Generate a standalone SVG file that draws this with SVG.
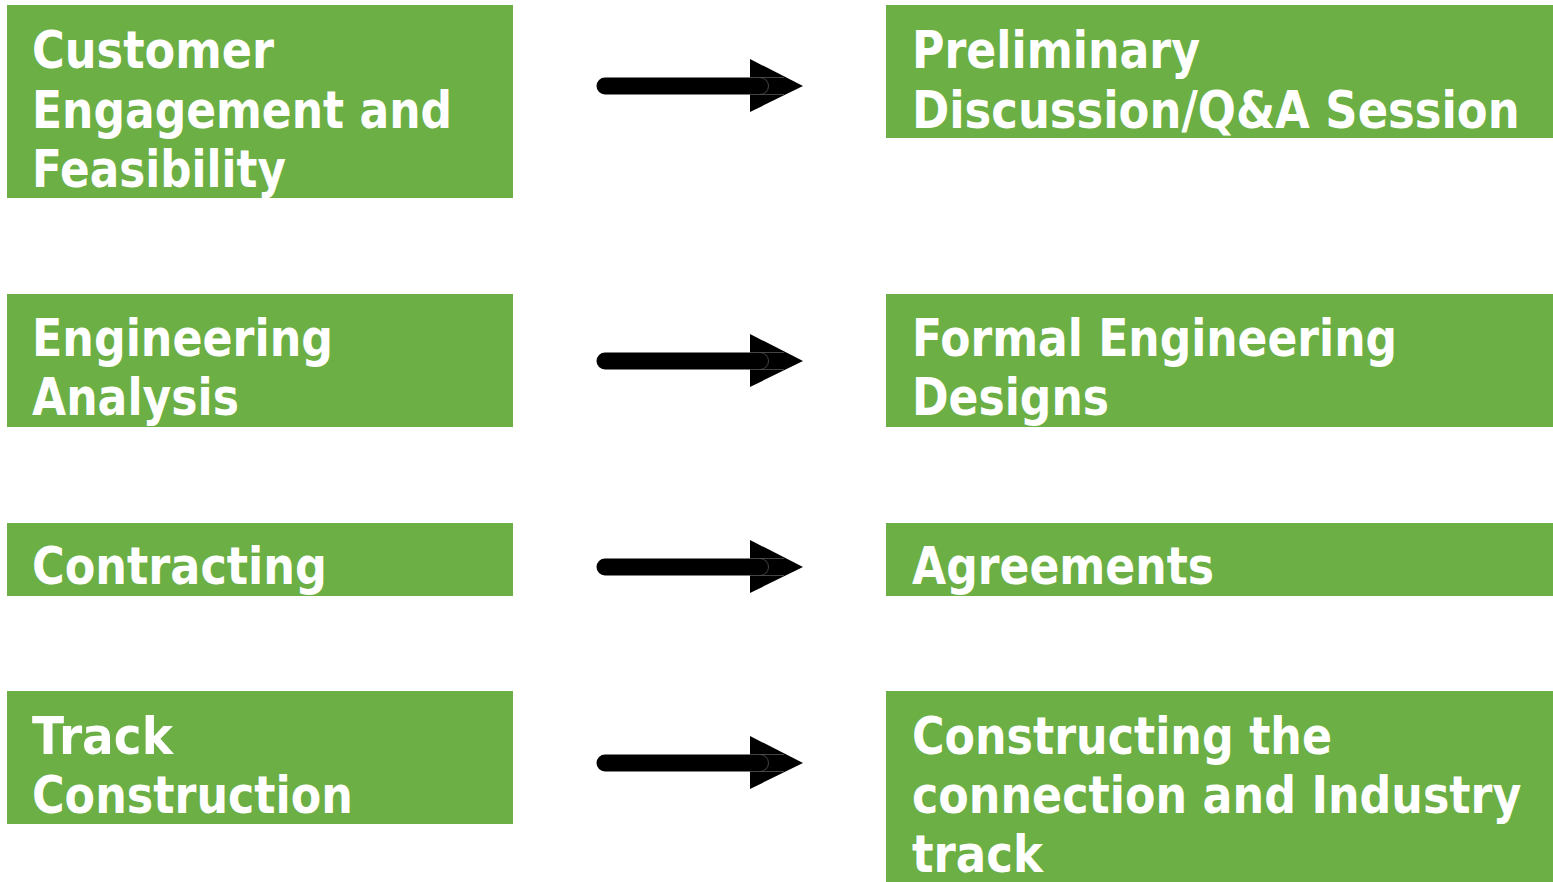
<svg xmlns="http://www.w3.org/2000/svg" width="1553" height="882" viewBox="0 0 1553 882">
<style>
.box{fill:#6BAF45}
.t{font-family:"DejaVu Sans","Verdana",sans-serif;font-weight:bold;font-size:51px;fill:#ffffff}
.shaft{stroke:#000;stroke-width:17;stroke-linecap:round;fill:none}
.head{fill:#000}
.ghost{stroke:#555;stroke-width:0.8;fill:none}
</style>
<defs>
<g id="arrow">
<line class="shaft" x1="605" y1="0" x2="760" y2="0"/>
<polygon class="head" points="750,-27 803,0 750,26"/>
<path class="ghost" d="M750,-8.5 H760 A8.5,8.5 0 0 1 760,8.5 H750 M760,-8.5 H784 M760,8.5 H784"/>
</g>
</defs>
<g id="n1">
<rect class="box" x="7" y="5" width="506" height="193"/>
<text class="t" x="32" y="68" textLength="242" lengthAdjust="spacingAndGlyphs">Customer</text>
<text class="t" x="32" y="127.5" textLength="420" lengthAdjust="spacingAndGlyphs">Engagement and</text>
<text class="t" x="32" y="187" textLength="254" lengthAdjust="spacingAndGlyphs">Feasibility</text>
</g>
<g id="n2">
<rect class="box" x="886" y="5" width="667" height="133"/>
<text class="t" x="912" y="68" textLength="288" lengthAdjust="spacingAndGlyphs">Preliminary</text>
<text class="t" transform="translate(912,127.5) scale(0.88,1)" x="0" y="0">Discussion/Q&amp;A Session</text>
</g>
<g id="n3">
<rect class="box" x="7" y="294" width="506" height="133"/>
<text class="t" x="32" y="356" textLength="301" lengthAdjust="spacingAndGlyphs">Engineering</text>
<text class="t" x="32" y="415" textLength="207" lengthAdjust="spacingAndGlyphs">Analysis</text>
</g>
<g id="n4">
<rect class="box" x="886" y="294" width="667" height="133"/>
<text class="t" x="912" y="356" textLength="485" lengthAdjust="spacingAndGlyphs">Formal Engineering</text>
<text class="t" x="912" y="415" textLength="197" lengthAdjust="spacingAndGlyphs">Designs</text>
</g>
<g id="n5">
<rect class="box" x="7" y="523" width="506" height="73"/>
<text class="t" x="32" y="584" textLength="295" lengthAdjust="spacingAndGlyphs">Contracting</text>
</g>
<g id="n6">
<rect class="box" x="886" y="523" width="667" height="73"/>
<text class="t" x="912" y="584" textLength="302" lengthAdjust="spacingAndGlyphs">Agreements</text>
</g>
<g id="n7">
<rect class="box" x="7" y="691" width="506" height="133"/>
<text class="t" x="32" y="754" textLength="141" lengthAdjust="spacingAndGlyphs">Track</text>
<text class="t" x="32" y="813" textLength="321" lengthAdjust="spacingAndGlyphs">Construction</text>
</g>
<g id="n8">
<rect class="box" x="886" y="691" width="667" height="191"/>
<text class="t" x="912" y="754" textLength="420" lengthAdjust="spacingAndGlyphs">Constructing the</text>
<text class="t" transform="translate(912,813) scale(0.871,1)" x="0" y="0">connection and Industry</text>
<text class="t" x="912" y="872" textLength="131" lengthAdjust="spacingAndGlyphs">track</text>
</g>
<g id="connectors">
<use href="#arrow" transform="translate(0,86)"/>
<use href="#arrow" transform="translate(0,361)"/>
<use href="#arrow" transform="translate(0,567)"/>
<use href="#arrow" transform="translate(0,763)"/>
</g>
</svg>
